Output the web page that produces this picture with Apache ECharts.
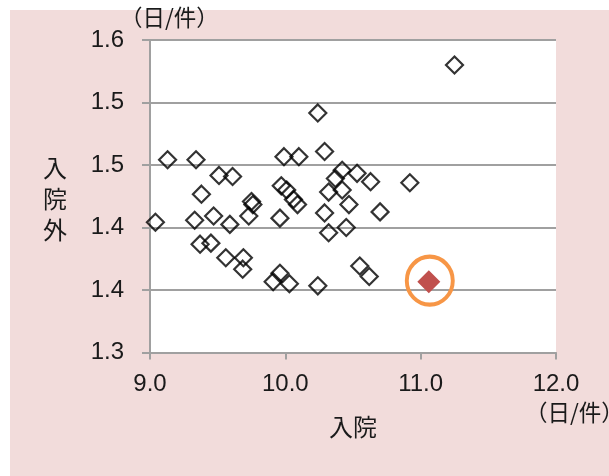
<!DOCTYPE html>
<html>
<head>
<meta charset="utf-8">
<script src="https://cdn.jsdelivr.net/npm/echarts@6/dist/echarts.min.js"></script>
<style>
  html, body { margin: 0; padding: 0; background: #ffffff; }
  #chart { width: 609px; height: 476px; }
</style>
</head>
<body>
<div id="chart"></div>
<script>
// 入院 (x, 日/件)
const inpatientDays = [
  11.25, 10.24, 9.13, 9.34, 9.51, 9.61, 9.38, 9.75, 9.76, 9.04,
  9.33, 9.47, 9.59, 9.73, 9.96, 9.37, 9.45, 9.56, 9.69, 9.685,
  9.91, 9.96, 10.03, 10.24, 9.99, 10.10, 10.29, 9.97, 10.01, 10.06,
  10.09, 10.42, 10.37, 10.53, 10.63, 10.92, 10.32, 10.42, 10.47, 10.70,
  10.29, 10.45, 10.32, 10.55, 10.62
];
// 入院外 (y, 日/件)
const outpatientDays = [
  1.576, 1.530, 1.485, 1.485, 1.470, 1.469, 1.452, 1.445, 1.442, 1.425,
  1.427, 1.431, 1.423, 1.431, 1.429, 1.404, 1.405, 1.391, 1.391, 1.380,
  1.368, 1.376, 1.366, 1.364, 1.488, 1.488, 1.493, 1.460, 1.456, 1.447,
  1.442, 1.475, 1.467, 1.472, 1.464, 1.463, 1.454, 1.456, 1.442, 1.435,
  1.434, 1.420, 1.415, 1.383, 1.373
];
// highlighted entity
const highlightX = [11.06];
const highlightY = [1.368];

const xTicks = { min: 9, max: 12, interval: 1 };
const yTicks = { min: 1.3, max: 1.6, interval: 0.06 };

const xName = '入院';
const yName = '入院外';
const unitText = '（日/件）';

const others = inpatientDays.map((x, i) => [x, outpatientDays[i]]);
const highlight = highlightX.map((x, i) => [x, highlightY[i]]);

const gray = '#a0a0a0';
const numFont = '"Liberation Sans", Arial, sans-serif';
const cjkFont = '"Noto Sans CJK JP", "Noto Sans CJK SC", sans-serif';

const chart = echarts.init(document.getElementById('chart'), null, { renderer: 'canvas' });
chart.setOption({
  backgroundColor: '#ffffff',
  animation: false,
  graphic: {
    elements: [
      {
        type: 'rect', z: -100, silent: true,
        shape: { x: 10, y: 10, width: 599, height: 466 },
        style: { fill: '#f2dcdb' }
      },
      {
        type: 'text', z: 100, silent: true,
        x: 120, y: 17,
        style: { text: unitText, fontSize: 22.5, fontFamily: cjkFont, fill: '#1a1a1a',
                 textAlign: 'left', textVerticalAlign: 'middle', align: 'left', verticalAlign: 'middle' }
      },
      {
        type: 'text', z: 100, silent: true,
        x: 525, y: 412,
        style: { text: unitText, fontSize: 22.5, fontFamily: cjkFont, fill: '#1a1a1a',
                 textAlign: 'left', textVerticalAlign: 'middle', align: 'left', verticalAlign: 'middle' }
      },
      {
        type: 'text', z: 100, silent: true,
        x: 55, y: 199,
        style: { text: yName.split('').join('\n'), fontSize: 24, lineHeight: 31, fontFamily: cjkFont, fill: '#1a1a1a',
                 textAlign: 'center', textVerticalAlign: 'middle', align: 'center', verticalAlign: 'middle' }
      }
    ]
  },
  grid: {
    left: 150, right: 53, top: 40, bottom: 123.5,
    show: true, backgroundColor: '#ffffff', borderWidth: 0
  },
  xAxis: {
    type: 'value',
    min: xTicks.min, max: xTicks.max, interval: xTicks.interval,
    name: xName, nameLocation: 'middle', nameGap: 62,
    nameTextStyle: { fontSize: 24, fontFamily: cjkFont, color: '#1a1a1a' },
    axisLine: { show: true, lineStyle: { color: gray, width: 2 } },
    axisTick: { show: true, inside: false, length: 7, lineStyle: { color: gray, width: 2 } },
    axisLabel: { margin: 20, fontSize: 24, fontFamily: numFont, color: '#1a1a1a',
                 formatter: v => v.toFixed(1) },
    splitLine: { show: false }
  },
  yAxis: {
    type: 'value',
    min: yTicks.min, max: yTicks.max, interval: yTicks.interval,
    axisLine: { show: true, lineStyle: { color: gray, width: 2 } },
    axisTick: { show: true, inside: false, length: 8, lineStyle: { color: gray, width: 2 } },
    axisLabel: { margin: 26, fontSize: 24, fontFamily: numFont, color: '#1a1a1a',
                 formatter: v => v.toFixed(1) },
    splitLine: { show: true, lineStyle: { color: gray, width: 2 } }
  },
  series: [
    {
      type: 'scatter',
      data: others,
      symbol: 'diamond',
      symbolSize: 17,
      itemStyle: { color: 'rgba(255,255,255,0)', borderColor: '#000000', borderWidth: 2.2 },
      z: 3
    },
    {
      type: 'scatter',
      data: highlight,
      symbol: 'diamond',
      symbolSize: 23,
      itemStyle: { color: '#c0504d', borderWidth: 0, opacity: 1 },
      z: 4
    },
    {
      type: 'scatter',
      data: highlight,
      symbol: 'circle',
      symbolSize: [46, 48],
      symbolOffset: [1, -1],
      itemStyle: { color: 'rgba(0,0,0,0)', borderColor: '#f79646', borderWidth: 4, opacity: 1 },
      z: 5
    }
  ]
});
</script>
</body>
</html>
